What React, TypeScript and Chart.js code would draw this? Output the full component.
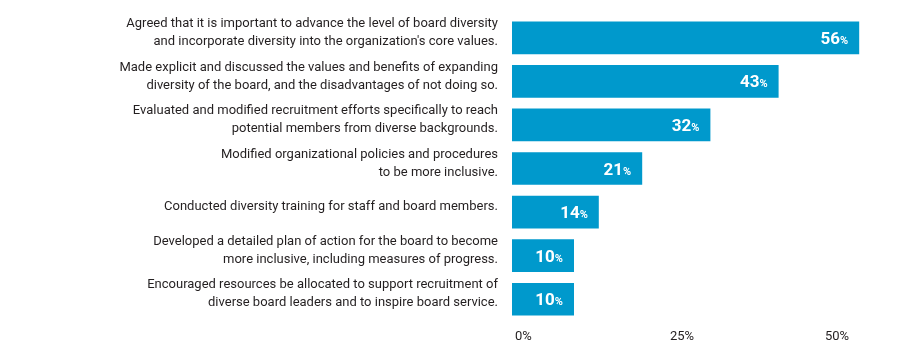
import React, { useEffect, useRef } from "react";
import { Chart, registerables } from "chart.js";

Chart.register(...registerables);

const categories: string[][] = [
  ["Agreed that it is important to advance the level of board diversity", "and incorporate diversity into the organization's core values."],
  ["Made explicit and discussed the values and benefits of expanding", "diversity of the board, and the disadvantages of not doing so."],
  ["Evaluated and modified recruitment efforts specifically to reach", "potential members from diverse backgrounds."],
  ["Modified organizational policies and procedures", "to be more inclusive."],
  ["Conducted diversity training for staff and board members."],
  ["Developed a detailed plan of action for the board to become", "more inclusive, including measures of progress."],
  ["Encouraged resources be allocated to support recruitment of", "diverse board leaders and to inspire board service."],
];
const values: number[] = [56, 43, 32, 21, 14, 10, 10];
const xTicks: number[] = [0, 25, 50];

const FONT = "Roboto, 'Open Sans', sans-serif";
const BAR_COLOR = "#0099cc";
const TEXT_COLOR = "#231f20";

const valueLabels = {
  id: "valueLabels",
  afterDatasetsDraw(chart: any) {
    const ctx = chart.ctx;
    const meta = chart.getDatasetMeta(0);
    ctx.save();
    ctx.fillStyle = "#ffffff";
    ctx.textBaseline = "alphabetic";
    ctx.textAlign = "right";
    meta.data.forEach((bar: any, i: number) => {
      const v = chart.data.datasets[0].data[i];
      const xr = bar.x - 11;
      const yb = bar.y + 6;
      ctx.font = `bold 11px ${FONT}`;
      ctx.fillText("%", xr, yb);
      const pw = ctx.measureText("%").width;
      ctx.font = `bold 17px ${FONT}`;
      ctx.fillText(String(v), xr - pw, yb);
    });
    ctx.restore();
  },
};

export default function App() {
  const ref = useRef<HTMLCanvasElement | null>(null);
  useEffect(() => {
    if (!ref.current) return;
    const chart = new Chart(ref.current, {
      type: "bar",
      data: {
        labels: categories,
        datasets: [
          {
            data: values,
            backgroundColor: BAR_COLOR,
            borderWidth: 0,
            barPercentage: 0.75,
            categoryPercentage: 1,
          },
        ],
      },
      options: {
        indexAxis: "y",
        animation: false,
        responsive: true,
        maintainAspectRatio: false,
        layout: { padding: { top: 8, right: 28, bottom: 0, left: 0 } },
        plugins: {
          legend: { display: false },
          tooltip: { enabled: false },
        },
        scales: {
          x: {
            min: 0,
            max: 60,
            afterBuildTicks: (scale: any) => {
              scale.ticks = xTicks.map((v) => ({ value: v }));
            },
            afterFit: (scale: any) => {
              scale.height = 26;
              scale.paddingLeft = 0;
              scale.paddingRight = 0;
            },
            grid: { display: false, drawTicks: false },
            border: { display: false },
            ticks: {
              padding: 8,
              align: "start",
              labelOffset: 3,
              color: TEXT_COLOR,
              font: { family: FONT, size: 13 },
              callback: (v: any) => `${v}%`,
            },
          },
          y: {
            afterFit: (scale: any) => {
              scale.width = 504;
              scale.paddingTop = 0;
              scale.paddingBottom = 0;
            },
            grid: { display: false, drawTicks: false },
            border: { display: false },
            ticks: {
              padding: 14,
              labelOffset: -5,
              color: TEXT_COLOR,
              font: { family: FONT, size: 13, lineHeight: 1.38 },
            },
          },
        },
      },
      plugins: [valueLabels],
    });
    return () => chart.destroy();
  }, []);
  return (
    <div style={{ position: "relative", width: 904, height: 339 }}>
      <canvas ref={ref} />
    </div>
  );
}
